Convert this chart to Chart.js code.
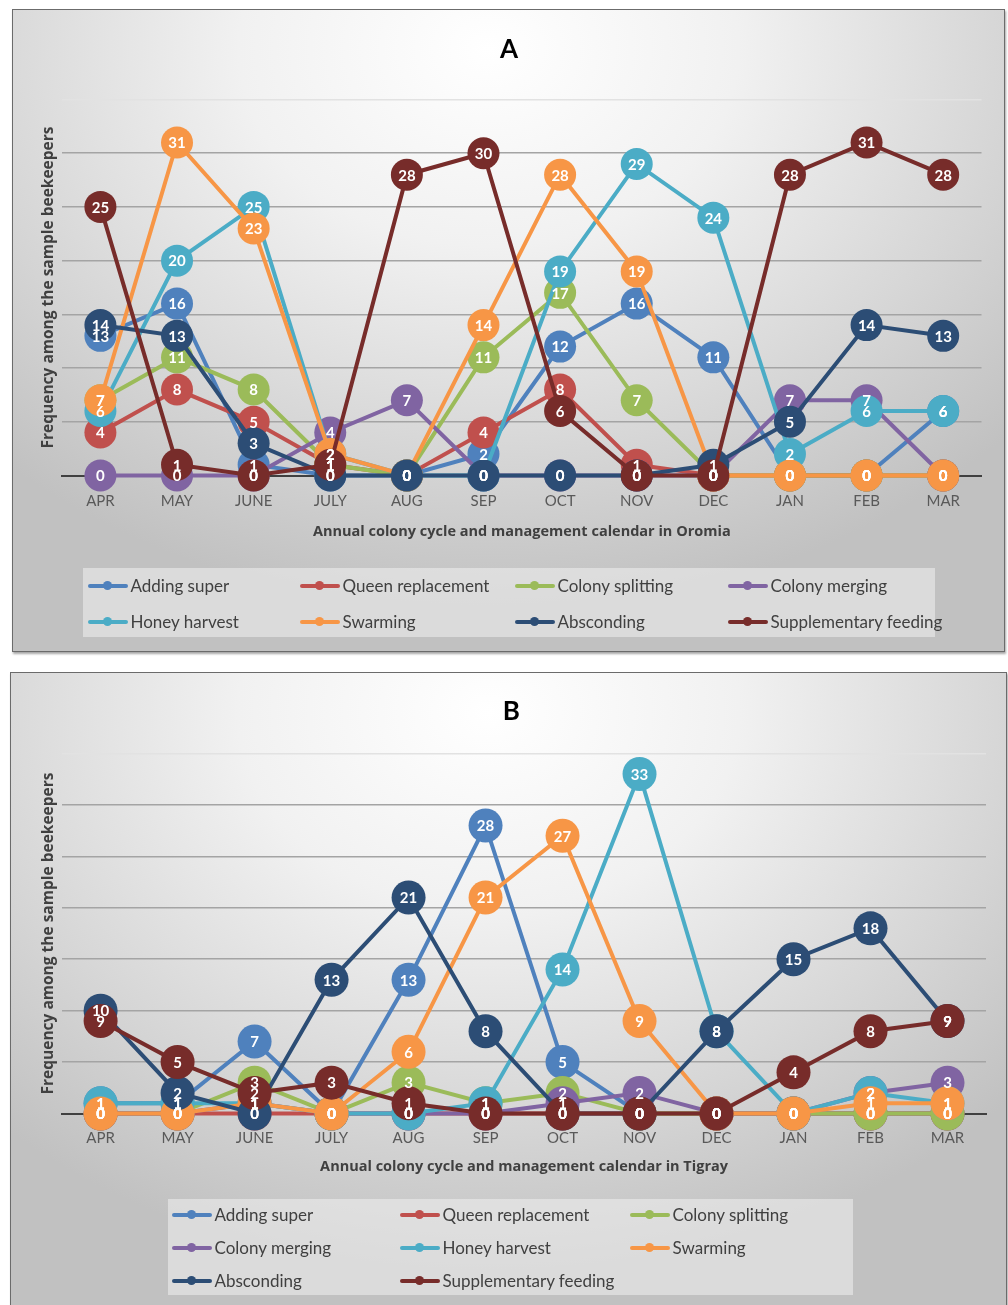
<!DOCTYPE html>
<html>
<head>
<meta charset="utf-8">
<script src="https://cdn.jsdelivr.net/npm/chart.js@4"></script>
<style>
html,body{margin:0;padding:0;background:#fff;width:1008px;height:1305px;overflow:hidden;font-family:Lato,"Liberation Sans",sans-serif}
.frame{position:absolute;box-sizing:border-box;border:1.5px solid #6b6b6b;
  background:radial-gradient(ellipse 72% 88% at 48% 6%, #ffffff 0%, #f1f1f1 35%, #d4d4d4 75%, #c1c1c1 100%);
  box-shadow:1px 2px 2px rgba(0,0,0,.35);overflow:hidden}
.frame canvas{position:absolute;left:0;top:0}
.legend{position:absolute;background:rgba(240,240,240,.55)}
.li{position:absolute;height:22px;display:flex;align-items:center;font-size:17px;color:#404040;white-space:nowrap}
.sw{position:relative;width:40px;height:4px;margin-right:3px;border-radius:2px}
.sw i{position:absolute;left:15.5px;top:-2.5px;width:9px;height:9px;border-radius:50%}
</style>
</head>
<body>
<div class="frame" id="frameA" style="left:12px;top:9px;width:993px;height:643px">
  <canvas id="chartA" width="990" height="640"></canvas>
</div>
<div class="frame" id="frameB" style="left:10px;top:672px;width:997px;height:645px">
  <canvas id="chartB" width="994" height="642"></canvas>
</div>
<script>
// ---- Data ----
const months = ['APR','MAY','JUNE','JULY','AUG','SEP','OCT','NOV','DEC','JAN','FEB','MAR'];
const seriesNames = ['Adding super','Queen replacement','Colony splitting','Colony merging','Honey harvest','Swarming','Absconding','Supplementary feeding'];
const seriesColors = ['#4F81BD','#C0504D','#9BBB59','#8064A2','#4BACC6','#F79646','#2C4D75','#772C2A'];

// Panel A: Oromia
const oromiaAddingSuper          = [13,16, 1, 0, 0, 2,12,16,11, 0, 0, 6];
const oromiaQueenReplacement     = [ 4, 8, 5, 1, 0, 4, 8, 1, 0, 0, 0, 0];
const oromiaColonySplitting      = [ 7,11, 8, 1, 0,11,17, 7, 0, 0, 0, 0];
const oromiaColonyMerging        = [ 0, 0, 0, 4, 7, 0, 0, 0, 0, 7, 7, 0];
const oromiaHoneyHarvest         = [ 6,20,25, 2, 0, 0,19,29,24, 2, 6, 6];
const oromiaSwarming             = [ 7,31,23, 2, 0,14,28,19, 0, 0, 0, 0];
const oromiaAbsconding           = [14,13, 3, 0, 0, 0, 0, 0, 1, 5,14,13];
const oromiaSupplementaryFeeding = [25, 1, 0, 1,28,30, 6, 0, 0,28,31,28];

// Panel B: Tigray
const tigrayAddingSuper          = [ 1, 1, 7, 0,13,28, 5, 0, 0, 0, 0, 0];
const tigrayQueenReplacement     = [ 0, 0, 0, 0, 0, 0, 0, 0, 0, 0, 0, 0];
const tigrayColonySplitting      = [ 0, 0, 3, 0, 3, 1, 2, 0, 0, 0, 0, 0];
const tigrayColonyMerging        = [ 0, 0, 1, 0, 0, 0, 1, 2, 0, 0, 2, 3];
const tigrayHoneyHarvest         = [ 1, 1, 1, 0, 0, 1,14,33, 8, 0, 2, 1];
const tigraySwarming             = [ 0, 0, 1, 0, 6,21,27, 9, 0, 0, 1, 1];
const tigrayAbsconding           = [10, 2, 0,13,21, 8, 0, 0, 8,15,18, 9];
const tigraySupplementaryFeeding = [ 9, 5, 2, 3, 1, 0, 0, 0, 0, 4, 8, 9];

const yMin = 0, yMax = 35, yStep = 5;

const oromiaSeries = [oromiaAddingSuper,oromiaQueenReplacement,oromiaColonySplitting,oromiaColonyMerging,
  oromiaHoneyHarvest,oromiaSwarming,oromiaAbsconding,oromiaSupplementaryFeeding];
const tigraySeries = [tigrayAddingSuper,tigrayQueenReplacement,tigrayColonySplitting,tigrayColonyMerging,
  tigrayHoneyHarvest,tigraySwarming,tigrayAbsconding,tigraySupplementaryFeeding];

// ---- Value labels inside markers ----
const valueLabels = {
  id: 'valueLabels',
  afterDatasetsDraw(chart) {
    const ctx = chart.ctx;
    ctx.save();
    ctx.font = 'bold 15px Lato, "Liberation Sans", sans-serif';
    ctx.fillStyle = '#ffffff';
    ctx.textAlign = 'center';
    ctx.textBaseline = 'middle';
    chart.data.datasets.forEach((ds, i) => {
      const meta = chart.getDatasetMeta(i);
      meta.data.forEach((pt, j) => {
        ctx.fillText(String(ds.data[j]), pt.x, pt.y + 1);
      });
    });
    ctx.restore();
  }
};

function buildChart(id, titleText, xTitleText, series, L) {
  const datasets = series.map((arr, i) => ({
    label: seriesNames[i],
    data: arr,
    borderColor: seriesColors[i],
    backgroundColor: seriesColors[i],
    pointBackgroundColor: seriesColors[i],
    pointBorderColor: seriesColors[i],
    pointBorderWidth: 0,
    pointRadius: L.r,
    pointHoverRadius: L.r,
    borderWidth: 4,
    tension: 0,
    clip: false,
    order: series.length - 1 - i
  }));
  return new Chart(document.getElementById(id), {
    type: 'line',
    data: { labels: months, datasets },
    plugins: [valueLabels],
    options: {
      responsive: false,
      animation: false,
      events: [],
      layout: { padding: { left: L.left, right: L.right, top: 0, bottom: L.bottom } },
      plugins: {
        legend: { display: false },
        tooltip: { enabled: false },
        title: {
          display: true, text: titleText, color: '#000',
          font: { family: 'Lato', size: 26, weight: 'bold', lineHeight: 1.2 },
          padding: { top: L.tTop, bottom: L.tBottom }
        }
      },
      scales: {
        x: {
          offset: true,
          grid: { display: false, drawTicks: false },
          border: { display: true, color: '#404040', width: 2 },
          ticks: { color: '#595959', padding: L.tickPad, font: { family: 'Lato', size: 15, lineHeight: 1.2 } },
          title: {
            display: true, text: xTitleText, color: '#404040',
            font: { family: 'Open Sans', size: 14.5, weight: 'bold', lineHeight: 1.2 },
            padding: { top: 0, bottom: 0 }
          },
          afterFit: s => { s.height = L.xH; }
        },
        y: {
          min: yMin, max: yMax,
          ticks: { display: false, stepSize: yStep },
          border: { display: false },
          grid: {
            drawTicks: false,
            color: c => c.tick.value === 0 ? '#404040' : (c.tick.value === yMax ? '#e2e2e2' : '#a4a4a4'),
            lineWidth: c => c.tick.value === 0 ? 2 : 1.6
          },
          title: {
            display: true, text: 'Frequency among the sample beekeepers', color: '#404040',
            font: { family: 'Open Sans', size: 15.5, weight: 'bold', lineHeight: 1.2 },
            padding: { top: 3, bottom: 4 }
          }
        }
      }
    }
  });
}

function buildLegend(frameId, chart, box, cols, rows, perRow) {
  const frame = document.getElementById(frameId);
  const fr = frame.getBoundingClientRect();
  const ox = fr.left + 1.5, oy = fr.top + 1.5;
  const lg = document.createElement('div');
  lg.className = 'legend';
  lg.style.left = (box[0] - ox) + 'px';
  lg.style.top = (box[1] - oy) + 'px';
  lg.style.width = (box[2] - box[0]) + 'px';
  lg.style.height = (box[3] - box[1]) + 'px';
  frame.appendChild(lg);
  chart.data.datasets.forEach((ds, i) => {
    const item = document.createElement('div');
    item.className = 'li';
    const c = i % perRow, r = Math.floor(i / perRow);
    item.style.left = (cols[c] - ox) + 'px';
    item.style.top = (rows[r] - 11 - oy) + 'px';
    const sw = document.createElement('span');
    sw.className = 'sw';
    sw.style.background = ds.borderColor;
    const dot = document.createElement('i');
    dot.style.background = ds.borderColor;
    sw.appendChild(dot);
    item.appendChild(sw);
    item.appendChild(document.createTextNode(ds.label));
    frame.appendChild(item);
  });
}

const chartA = buildChart('chartA', 'A', 'Annual colony cycle and management calendar in Oromia', oromiaSeries,
  { r: 16, left: 23.5, right: 21.5, bottom: 109.5, tTop: 24, tBottom: 34.3, tickPad: 17, xH: 65 });
const chartB = buildChart('chartB', 'B', 'Annual colony cycle and management calendar in Tigray', tigraySeries,
  { r: 17, left: 25.5, right: 19, bottom: 139.5, tTop: 23, tBottom: 26.3, tickPad: 16, xH: 62 });

buildLegend('frameA', chartA, [83, 568, 935, 637], [88, 300, 515, 728], [586, 622], 4);
buildLegend('frameB', chartB, [168, 1199, 853, 1295], [172, 400, 630], [1215, 1248, 1281], 3);
</script>
</body>
</html>
